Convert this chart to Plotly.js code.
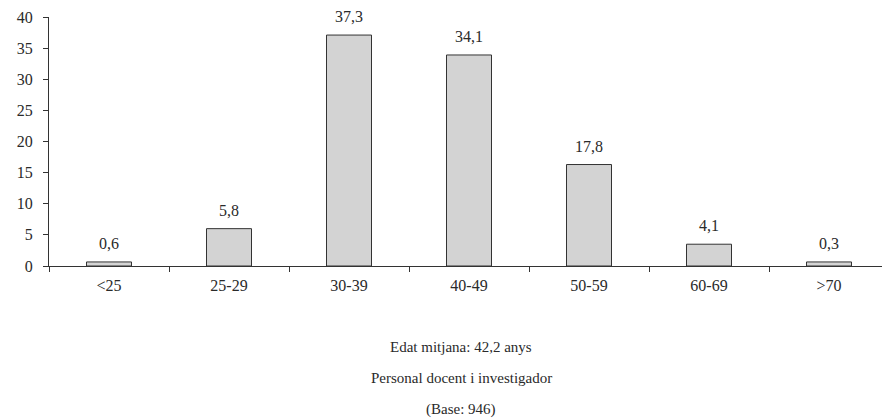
<!DOCTYPE html>
<html>
<head>
<meta charset="utf-8">
<script src="https://cdn.plot.ly/plotly-3.0.1.min.js"></script>
<style>html,body{margin:0;padding:0;background:#fff}#chart{width:882px;height:419px}</style>
</head>
<body>
<div id="chart"></div>
<script>
// Age groups
const categories = ['<25', '25-29', '30-39', '40-49', '50-59', '60-69', '>70'];
// Bar heights as drawn in the picture
const barHeights = [0.65, 6.0, 37.1, 33.9, 16.3, 3.5, 0.65];
// Value labels printed above bars
const valueLabels = ['0,6', '5,8', '37,3', '34,1', '17,8', '4,1', '0,3'];
const yTicks = [0, 5, 10, 15, 20, 25, 30, 35, 40];
const footLines = ['Edat mitjana: 42,2 anys', 'Personal docent i investigador', '(Base: 946)'];

const FONT = 'Liberation Serif';
const TXT = '#2a2a2a';

const trace = {
  type: 'bar', x: categories, y: barHeights, width: 0.375,
  marker: {color: '#d3d3d3', line: {color: '#333333', width: 1}}, hoverinfo: 'none'
};

const annotations = categories.map((c, i) => ({
  x: c, y: barHeights[i], xref: 'x', yref: 'y',
  text: valueLabels[i], showarrow: false, yanchor: 'bottom', yshift: 8,
  font: {family: FONT, size: 16, color: TXT}
}));

const footY = [347, 378, 409];
footLines.forEach((t, i) => {
  annotations.push({
    x: 461, y: footY[i], xref: 'paper', yref: 'paper', text: t, showarrow: false,
    xanchor: 'center', yanchor: 'middle', font: {family: FONT, size: 15, color: TXT}
  });
});
const L = 49, T = 17, W = 882, H = 419, B = 153;
const plotW = W - L, plotH = H - T - B;
annotations.forEach(a => {
  if (a.xref === 'paper') { a.x = (a.x - L) / plotW; a.y = (H - B - a.y) / plotH; }
});

const layout = {
  width: W, height: H,
  margin: {l: L, r: 0, t: T, b: B, pad: 0},
  paper_bgcolor: '#ffffff', plot_bgcolor: '#ffffff', showlegend: false,
  font: {family: FONT, size: 16, color: TXT},
  xaxis: {
    type: 'category', range: [-0.5, -0.5 + plotW / 120],
    showline: true, linecolor: '#333333', linewidth: 1,
    ticks: 'outside', tickson: 'boundaries', ticklen: 5, tickcolor: '#333333',
    showgrid: false, zeroline: false, tickfont: {family: FONT, size: 16, color: TXT}, ticklabelstandoff: 5
  },
  yaxis: {
    range: [0, 40], tickvals: yTicks, ticktext: yTicks.map(String),
    showline: true, linecolor: '#333333', linewidth: 1,
    ticks: 'outside', ticklen: 5, tickcolor: '#333333',
    showgrid: false, zeroline: false, tickfont: {family: FONT, size: 16, color: TXT}, ticklabelstandoff: 7
  },
  annotations: annotations
};
Plotly.newPlot('chart', [trace], layout, {staticPlot: true, displayModeBar: false});
</script>
</body>
</html>
